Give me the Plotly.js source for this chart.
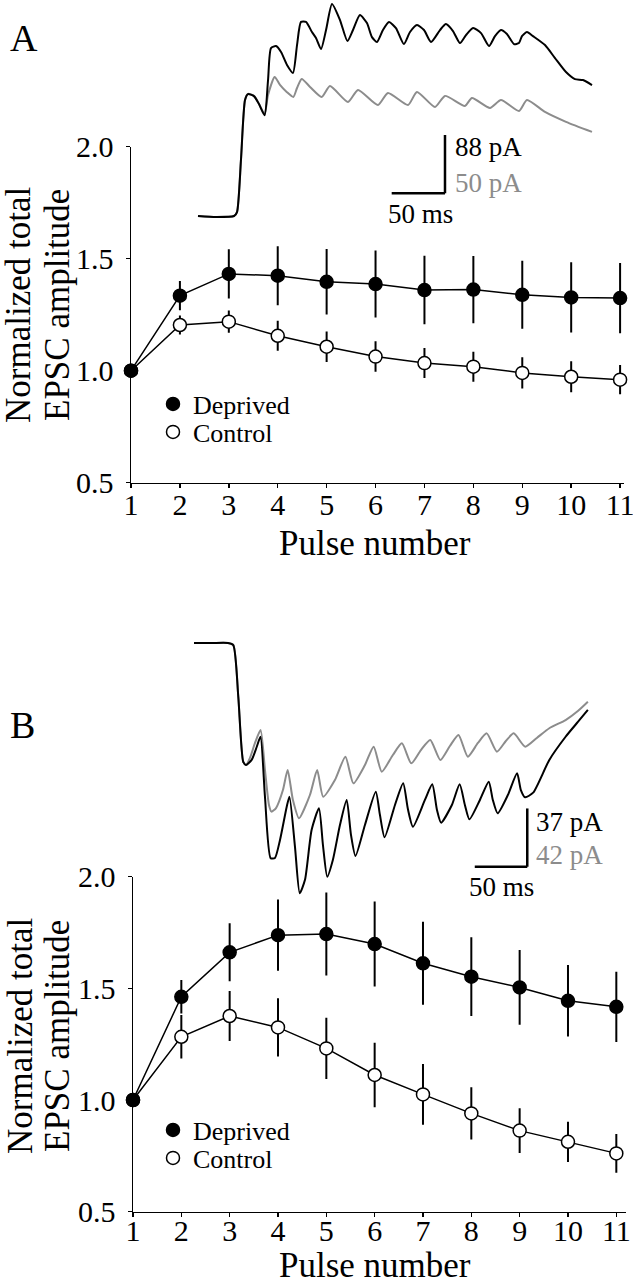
<!DOCTYPE html>
<html>
<head>
<meta charset="utf-8">
<script src="https://cdn.plot.ly/plotly-3.0.1.min.js"></script>
<style>
html,body{margin:0;padding:0;background:#fff;}
#chart{width:633px;height:1280px;}
</style>
</head>
<body>
<div id="chart"></div>
<script>
// ---------------- data: summary plots ----------------
const pulses = [1, 2, 3, 4, 5, 6, 7, 8, 9, 10, 11];

const deprivedA    = [1.00, 1.335, 1.432, 1.424, 1.397, 1.387, 1.360, 1.362, 1.339, 1.327, 1.324];
const deprivedAErr = [0, 0.065, 0.110, 0.132, 0.146, 0.150, 0.153, 0.150, 0.152, 0.157, 0.157];
const controlA     = [1.00, 1.204, 1.219, 1.156, 1.107, 1.063, 1.034, 1.018, 0.990, 0.973, 0.960];
const controlAErr  = [0, 0.042, 0.050, 0.067, 0.068, 0.068, 0.067, 0.067, 0.070, 0.069, 0.065];

const deprivedB    = [1.00, 1.462, 1.661, 1.738, 1.743, 1.698, 1.612, 1.552, 1.504, 1.444, 1.417];
const deprivedBErr = [0, 0.075, 0.130, 0.160, 0.186, 0.190, 0.186, 0.176, 0.167, 0.160, 0.157];
const controlB     = [1.00, 1.283, 1.376, 1.325, 1.231, 1.112, 1.025, 0.940, 0.863, 0.813, 0.761];
const controlBErr  = [0, 0.097, 0.112, 0.130, 0.137, 0.144, 0.136, 0.117, 0.100, 0.090, 0.087];

const yTickVals = [0.5, 1.0, 1.5, 2.0];
const yTickText = ['0.5', '1.0', '1.5', '2.0'];
const seriesNames = ['Deprived', 'Control'];
const xTitle = 'Pulse number';
const yTitleLines = ['Normalized total', 'EPSC amplitude'];
const panelLabels = ['A', 'B'];

// ---------------- data: example current traces (time ms, current pA) ----------------
const traceATimeBlack = [0,16.9,33.8,36.6,40.3,44.1,46.9,52.5,57.2,62.5,65.7,68.5,73.2,77.9,83.5,89.1,92.9,96.6,101.3,106.9,110.7,115.4,120.1,125.7,133.2,140.2,145.4,151.9,158.5,163.2,167.9,173.5,179.2,185.7,193.2,198.9,205.4,212,218.6,227,232.6,239.2,245.8,251.4,258,265.5,273,278.6,284.2,289.8,296.4,301.1,303.9,308.6,314.2,325.5,334.9,345.2,353.6,361.1,369.6];
const traceACurrentBlack = [0,-1.5,0,6,84.5,175,184,181,169,152,205,253.5,256.5,247.5,228,216,258,293,293,277.7,268.6,252,280.7,320,295.8,264,280.7,303.3,291.2,270,262.6,280.7,292.7,283.7,259.5,277.7,288.2,280.7,262.6,280.7,289.7,279.2,261,273,283.7,276.1,256.5,271.6,280.7,274.6,259.5,261,271.6,277.7,271.6,258,238.4,217.3,206.7,205.2,197.7];
const traceATimeGray = [0,16.9,33.8,36.6,40.3,44.1,46.9,52.5,57.2,62.5,65.7,71.9,76.9,83.2,89.4,92.9,97.3,105.1,116,123.8,140.7,150.1,168.8,178.2,197,205.4,222.3,231.7,250.4,257,273.9,284.2,301.1,308.6,325.5,345.2,369.6];
const traceACurrentGray = [0,-0.9,0,3.4,48,99.5,104.7,103,96.1,87.5,103.8,119.3,112.4,106.4,102.1,109.8,117.5,110.7,102.1,111.5,97.8,108.1,95.2,105.5,95.2,106.4,93.5,103,94.4,101.2,92.7,99.5,90.1,99.5,89.2,80.7,72.1];

const traceBTimeBlack = [0,17.1,32.4,37.4,42.2,46.9,49.5,54.9,59.7,63.3,67.6,73,77.1,81.9,88.3,90.9,96.2,100.7,105.7,112,119,122.8,126.9,132.3,139,145.4,149.5,153.8,162.8,173.1,177.1,181.5,191.4,199.2,203.7,208.5,219.9,226.9,231.4,235.3,245.6,253,258,262.3,272.3,280.7,284.6,289.2,298.9,307.7,311.3,315.4,323,338.4,353.9,365.6,375.1];
const traceBCurrentBlack = [0,0,0,-1.3,-34.3,-75.5,-77.4,-74.2,-66,-59.5,-97.7,-136.6,-136.4,-125,-103.9,-97.5,-129.5,-158.8,-150.3,-118.7,-104.9,-128.2,-148.3,-137.5,-115.5,-99.6,-121.8,-135.2,-115.5,-94.4,-109.2,-123.3,-102.8,-89,-105.4,-116.6,-99.6,-89.7,-106,-114,-102.8,-89.7,-102.8,-111.9,-99.6,-88,-99.6,-108.1,-96.5,-82.7,-93.3,-97.9,-95,-74.2,-59.5,-50.1,-42.5];
const traceBTimeGray = [0,17.1,32.4,37.4,42.2,46.9,49.5,53.3,58.1,63.4,67.6,71.4,73.8,78.1,84.7,89.2,94.2,100,110.4,117.3,123,134.2,144.2,151.8,162.8,171.1,178.8,189.4,198,206.9,216.1,225,234.6,243.7,251.9,260.8,270.4,278.8,288.5,297,304.5,315.4,326.5,338.4,353.9,365.6,375.1];
const traceBCurrentGray = [0,0,0,-1.4,-38.9,-85.7,-87.9,-82.8,-72,-62.7,-91.5,-116.7,-121.5,-118.9,-105.9,-91.5,-113.1,-126.3,-109.5,-91.5,-110.7,-98.7,-81.9,-101.1,-87.9,-74.7,-92.7,-80.7,-72.3,-86.7,-77.1,-69.9,-84.3,-74.2,-66.3,-81.9,-72,-65.1,-78.3,-70.6,-65.1,-74.7,-68.4,-61.4,-55.5,-49,-42.3];

// scale bars
const scaleA = {ms: 50, blackpA: 88, graypA: 50};
const scaleB = {ms: 50, blackpA: 37, graypA: 42};

// ---------------- layout helpers ----------------
const W = 633, H = 1280;
const px = x => x / W;
const py = y => 1 - y / H;
const SERIF = 'Liberation Serif, Times New Roman, serif';
const BLACK = '#000000';
const GRAY = '#8c8c8c';

function rangeX(originPx, pxPerUnit) { return [(0 - originPx) / pxPerUnit, (W - originPx) / pxPerUnit]; }
function rangeY(topPx, botPx, originPx, pxPerUnit) { return [(originPx - botPx) / pxPerUnit, (originPx - topPx) / pxPerUnit]; }

function summaryAxisX(domain, range, standoff) {
  return {
    domain: domain, range: range, tickvals: pulses, ticktext: pulses.map(String),
    showline: true, linecolor: BLACK, linewidth: 1.5,
    ticks: 'outside', ticklen: 4, tickwidth: 1.5, tickcolor: BLACK,
    showgrid: false, zeroline: false, fixedrange: true,
    ticklabelstandoff: standoff, ticklabeloverflow: 'allow',
    tickfont: {family: SERIF, size: 30, color: BLACK}
  };
}
function summaryAxisY(domain) {
  return {
    domain: domain, range: [0.5, 2.0], tickvals: yTickVals, ticktext: yTickText,
    showline: true, linecolor: BLACK, linewidth: 1.5,
    ticks: 'outside', ticklen: 4, tickwidth: 1.5, tickcolor: BLACK,
    showgrid: false, zeroline: false, fixedrange: true, ticklabelstandoff: 6,
    ticklabeloverflow: 'allow',
    tickfont: {family: SERIF, size: 30, color: BLACK}
  };
}
const hiddenAxis = extra => Object.assign({visible: false, showgrid: false, zeroline: false, fixedrange: true}, extra);

// ---------------- traces ----------------
function lineTrace(y, xa, ya) {
  return {x: pulses, y: y, xaxis: xa, yaxis: ya, mode: 'lines', type: 'scatter',
          line: {color: BLACK, width: 1.5}, showlegend: false, hoverinfo: 'skip'};
}
function markerTrace(name, y, err, xa, ya, filled, legend) {
  return {x: pulses, y: y, xaxis: xa, yaxis: ya, mode: 'markers', type: 'scatter', name: name,
          legend: legend, cliponaxis: false,
          marker: {symbol: 'circle', size: 13, color: filled ? BLACK : '#ffffff', line: {color: BLACK, width: 1.5}},
          error_y: {type: 'data', array: err, visible: true, color: BLACK, thickness: 2, width: 0}};
}
function recTrace(t, I, xa, ya, color) {
  return {x: t, y: I, xaxis: xa, yaxis: ya, mode: 'lines', type: 'scatter',
          line: {color: color, width: 2, shape: 'spline', smoothing: 0.6}, showlegend: false, hoverinfo: 'skip'};
}

const data = [
  lineTrace(controlA, 'x', 'y'),
  lineTrace(deprivedA, 'x', 'y'),
  markerTrace(seriesNames[1], controlA, controlAErr, 'x', 'y', false, 'legend2'),
  markerTrace(seriesNames[0], deprivedA, deprivedAErr, 'x', 'y', true, 'legend'),
  lineTrace(controlB, 'x2', 'y2'),
  lineTrace(deprivedB, 'x2', 'y2'),
  markerTrace(seriesNames[1], controlB, controlBErr, 'x2', 'y2', false, 'legend4'),
  markerTrace(seriesNames[0], deprivedB, deprivedBErr, 'x2', 'y2', true, 'legend3'),
  recTrace(traceATimeGray, traceACurrentGray, 'x3', 'y3', GRAY),
  recTrace(traceATimeBlack, traceACurrentBlack, 'x3', 'y4', BLACK),
  recTrace(traceBTimeGray, traceBCurrentGray, 'x4', 'y5', GRAY),
  recTrace(traceBTimeBlack, traceBCurrentBlack, 'x4', 'y6', BLACK)
];

const aMsPx = 1.066, aBlackPx = 58.3 / scaleA.blackpA, aGrayPx = 58.3 / scaleA.graypA;
const bMsPx = 1.05, bBlackPx = 58.3 / scaleB.blackpA, bGrayPx = 58.3 / scaleB.graypA;
const aTop = 0, aBot = 240, aOrigX = 198, aOrigY = 216;
const bTop = 620, bBot = 900, bOrigX = 194, bOrigY = 643;

const scaleACorner = [231.7, 34.3];
const scaleBCorner = [317.4, -142.0];

function legendBox(yPx) {
  return {x: px(153), xanchor: 'left', y: py(yPx), yanchor: 'middle',
          bgcolor: 'rgba(0,0,0,0)', borderwidth: 0, itemwidth: 30,
          font: {family: SERIF, size: 26, color: BLACK}};
}
function textAnn(text, xPx, yPx, size, color, xanchor, angle) {
  return {text: text, xref: 'paper', yref: 'paper', x: px(xPx), y: py(yPx),
          xanchor: xanchor || 'left', yanchor: 'middle', showarrow: false,
          textangle: angle || 0, font: {family: SERIF, size: size, color: color || BLACK}};
}
function barShapes(corner, ms, pA, xref, yref) {
  const ln = {color: BLACK, width: 2.5};
  return [
    {type: 'line', xref: xref, yref: yref, x0: corner[0] - ms, x1: corner[0], y0: corner[1], y1: corner[1], line: ln},
    {type: 'line', xref: xref, yref: yref, x0: corner[0], x1: corner[0], y0: corner[1], y1: corner[1] + pA, line: ln}
  ];
}

const layout = {
  width: W, height: H,
  margin: {l: 0, r: 0, t: 0, b: 0, pad: 0},
  paper_bgcolor: '#ffffff', plot_bgcolor: 'rgba(0,0,0,0)',
  font: {family: SERIF, color: BLACK},
  xaxis: summaryAxisX([px(131), px(624)], [1, 11.08], -9),
  yaxis: summaryAxisY([py(482.7), py(146.7)]),
  xaxis2: Object.assign(summaryAxisX([px(133), px(625.5)], [1, 11.19], -12), {anchor: 'y2'}),
  yaxis2: Object.assign(summaryAxisY([py(1211.7), py(876.6)]), {anchor: 'x2'}),
  xaxis3: hiddenAxis({domain: [0, 1], range: rangeX(aOrigX, aMsPx), anchor: 'y3'}),
  yaxis3: hiddenAxis({domain: [py(aBot), py(aTop)], range: rangeY(aTop, aBot, aOrigY, aGrayPx), anchor: 'x3'}),
  yaxis4: hiddenAxis({domain: [py(aBot), py(aTop)], range: rangeY(aTop, aBot, aOrigY, aBlackPx), anchor: 'x3', overlaying: 'y3'}),
  xaxis4: hiddenAxis({domain: [0, 1], range: rangeX(bOrigX, bMsPx), anchor: 'y5'}),
  yaxis5: hiddenAxis({domain: [py(bBot), py(bTop)], range: rangeY(bTop, bBot, bOrigY, bGrayPx), anchor: 'x4'}),
  yaxis6: hiddenAxis({domain: [py(bBot), py(bTop)], range: rangeY(bTop, bBot, bOrigY, bBlackPx), anchor: 'x4', overlaying: 'y5'}),
  legend: legendBox(404),
  legend2: legendBox(432),
  legend3: legendBox(1130),
  legend4: legendBox(1158),
  shapes: [].concat(
    barShapes(scaleACorner, scaleA.ms, scaleA.blackpA, 'x3', 'y4'),
    barShapes(scaleBCorner, scaleB.ms, scaleB.blackpA, 'x4', 'y6')
  ),
  annotations: [
    textAnn(panelLabels[0], 8, 37.5, 38),
    textAnn(panelLabels[1], 8, 725, 38),
    textAnn(yTitleLines[0], 18, 305, 35, BLACK, 'center', -90),
    textAnn(yTitleLines[1], 57, 305, 35, BLACK, 'center', -90),
    textAnn(yTitleLines[0], 20, 1036, 35, BLACK, 'center', -90),
    textAnn(yTitleLines[1], 57, 1036, 35, BLACK, 'center', -90),
    textAnn(xTitle, 375, 543, 35, BLACK, 'center'),
    textAnn(xTitle, 375, 1265, 35, BLACK, 'center'),
    textAnn(scaleA.blackpA + ' pA', 453, 147, 27, BLACK),
    textAnn(scaleA.graypA + ' pA', 453, 183.5, 27, GRAY),
    textAnn(scaleA.ms + ' ms', 420, 214, 27, BLACK, 'center'),
    textAnn(scaleB.blackpA + ' pA', 534, 821.7, 27, BLACK),
    textAnn(scaleB.graypA + ' pA', 534, 855, 27, GRAY),
    textAnn(scaleB.ms + ' ms', 501, 886.7, 27, BLACK, 'center')
  ]
};

Plotly.newPlot('chart', data, layout, {displayModeBar: false, staticPlot: true});
</script>
</body>
</html>
